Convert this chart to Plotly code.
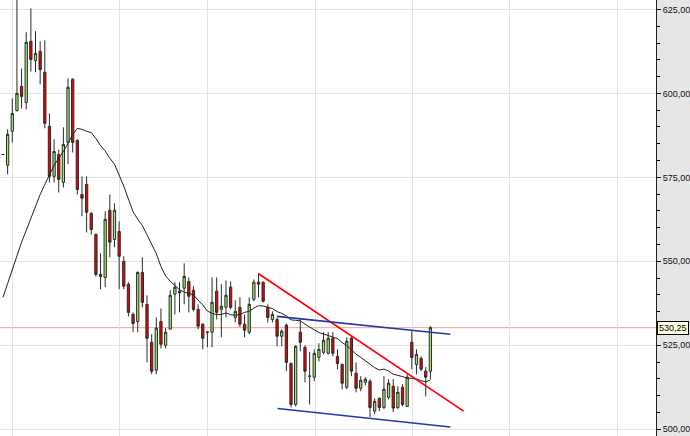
import plotly.graph_objects as go
import pandas as pd

# ---- candle data (daily) ----
opens = [581.8, 578.6, 588.7, 594.9, 602.1, 597.3, 615.5, 609.8, 612.5, 606.3,
         590.2, 575.3, 581.8, 573.5, 585.4, 604.2, 586.0, 569.9, 572.9, 564.3,
         558.0, 546.1, 545.2, 565.2, 556.5, 558.9, 550.0, 543.2, 534.2, 532.1,
         546.7, 537.2, 525.9, 517.6, 532.1, 525.0, 529.8, 540.2, 541.1, 542.0,
         544.0, 541.4, 535.7, 531.3, 528.9, 528.9, 541.1, 535.7, 536.3, 542.3,
         533.3, 536.3, 531.3, 528.9, 538.7, 543.8, 543.8, 536.3, 532.7, 532.7,
         527.7, 531.0, 519.6, 507.4, 528.9, 524.4, 515.8, 515.5, 521.4, 522.9,
         522.6, 527.1, 521.7, 519.3, 512.5, 527.1, 516.7, 512.2, 514.0, 514.3,
         505.4, 509.2, 506.5, 509.5, 512.8, 506.5, 512.5, 506.8, 525.9, 519.3,
         521.1, 517.3, 517.3]
highs = [582.0, 589.3, 598.5, 629.0, 607.4, 618.2, 625.3, 618.5, 615.5, 615.8,
         594.0, 586.3, 583.3, 589.9, 604.5, 604.5, 586.3, 575.3, 575.3, 564.6,
         558.3, 552.4, 564.9, 569.9, 567.3, 561.9, 551.5, 543.8, 534.8, 547.0,
         551.2, 539.9, 528.3, 533.3, 536.0, 530.1, 541.4, 543.8, 543.8, 549.4,
         545.2, 542.6, 537.2, 531.5, 529.2, 545.2, 545.2, 543.2, 544.3, 544.0,
         538.4, 539.3, 534.2, 539.3, 544.6, 546.4, 544.0, 537.2, 535.1, 533.3,
         529.8, 531.5, 519.9, 525.0, 533.0, 525.0, 523.0, 523.8, 525.6, 528.9,
         528.9, 528.9, 523.8, 519.6, 527.4, 527.7, 519.9, 515.8, 515.5, 514.9,
         509.2, 509.5, 515.8, 514.9, 514.9, 512.8, 513.4, 516.4, 529.2, 523.8,
         521.7, 518.5, 530.7]
lows = [581.6, 575.9, 585.4, 594.6, 595.5, 595.2, 606.5, 606.3, 602.7, 589.6,
        573.5, 573.5, 570.5, 572.0, 578.9, 582.4, 569.9, 563.4, 558.6, 558.0,
        545.5, 541.7, 542.3, 551.2, 554.2, 541.7, 541.7, 533.6, 528.9, 528.9,
        536.3, 519.9, 516.4, 516.4, 524.1, 524.1, 529.8, 534.2, 534.8, 537.2,
        534.8, 535.1, 529.8, 523.8, 524.4, 524.4, 532.7, 527.4, 533.3, 535.7,
        531.8, 530.4, 527.4, 528.3, 538.1, 539.3, 537.8, 531.8, 531.8, 524.7,
        524.7, 517.3, 506.5, 506.8, 523.2, 514.0, 507.4, 514.3, 520.2, 522.3,
        522.3, 521.7, 517.9, 511.9, 511.9, 515.8, 511.0, 511.3, 513.1, 503.6,
        504.5, 505.4, 506.0, 508.9, 505.1, 506.0, 506.8, 506.8, 517.9, 516.4,
        517.3, 509.8, 514.9]
closes = [581.8, 587.8, 594.0, 600.0, 599.1, 615.2, 610.1, 611.9, 607.1, 591.1,
          575.3, 582.7, 574.4, 584.8, 601.8, 585.4, 571.4, 568.8, 564.6, 559.5,
          546.1, 545.5, 562.5, 555.7, 565.2, 551.5, 542.6, 534.8, 531.5, 546.7,
          537.8, 527.1, 517.3, 530.1, 525.3, 528.9, 539.9, 542.3, 540.6, 545.5,
          539.6, 535.7, 530.7, 527.1, 528.9, 537.8, 534.8, 536.6, 539.9, 536.3,
          535.1, 531.3, 529.5, 537.2, 543.8, 543.2, 538.1, 533.3, 534.2, 527.7,
          529.2, 519.9, 507.4, 524.7, 525.9, 517.3, 515.8, 522.6, 523.8, 526.5,
          527.1, 522.6, 519.6, 513.7, 526.2, 517.3, 512.2, 514.6, 514.9, 506.5,
          508.3, 506.5, 511.9, 513.7, 506.3, 511.0, 507.4, 515.5, 521.4, 522.3,
          517.9, 515.5, 530.25]
idx = list(range(len(closes)))

# moving average (20): first 19 values (prior data unseen)
ma_head = [539.3, 543.5, 547.6, 551.8, 555.7, 559.2, 562.8, 566.7, 569.9, 572.9,
           575.9, 578.6, 580.7, 582.7, 585.1, 587.8, 589.6, 589.3, 588.7]
ma = pd.Series(closes).rolling(20).mean().tolist()
ma[:len(ma_head)] = ma_head

# trend lines (index, price)
red_x, red_y = [54.94, 99.14], [546.4, 505.4]
blue_up_x, blue_up_y = [58.95, 96.29], [533.6, 528.3]
blue_lo_x, blue_lo_y = [59.1, 96.29], [506.2, 500.7]

month_breaks = [2.15, 25.1, 44.0, 67.2, 88.2, 109.0, 132.2]
y_ticks = [500, 525, 550, 575, 600, 625]
last_price = 530.25

fig = go.Figure()
fig.add_trace(go.Candlestick(
    x=idx, open=opens, high=highs, low=lows, close=closes,
    increasing=dict(fillcolor="#9ded6c", line=dict(color="#2a2a2a", width=1)),
    decreasing=dict(fillcolor="#ee0000", line=dict(color="#2a2a2a", width=1)),
    whiskerwidth=0, showlegend=False, hoverinfo="skip"))
fig.add_trace(go.Scatter(x=idx, y=ma, mode="lines",
                         line=dict(color="#222222", width=1), showlegend=False))
fig.add_trace(go.Scatter(x=red_x, y=red_y, mode="lines",
                         line=dict(color="#ff0000", width=1.7), showlegend=False))
fig.add_trace(go.Scatter(x=blue_up_x, y=blue_up_y, mode="lines",
                         line=dict(color="#2238a8", width=1.6), showlegend=False))
fig.add_trace(go.Scatter(x=blue_lo_x, y=blue_lo_y, mode="lines",
                         line=dict(color="#2238a8", width=1.6), showlegend=False))

fig.add_shape(type="line", xref="paper", x0=0, x1=1, yref="y",
              y0=last_price, y1=last_price, layer="between",
              line=dict(color="#f2a0a0", width=1))

fig.add_annotation(x=1, xref="paper", y=last_price, yref="y", xanchor="left",
                   xshift=1, text=f"{last_price:.2f}".replace(".", ","),
                   showarrow=False, bgcolor="#ffffe1", bordercolor="#000000",
                   borderwidth=1, borderpad=1,
                   font=dict(family="Liberation Sans", size=9, color="#000"))

fig.update_layout(
    width=690, height=436,
    margin=dict(l=0, r=32, t=0, b=0),
    paper_bgcolor="#e6e6e6", plot_bgcolor="#ffffff",
    separators=",.",
    showlegend=False,
    xaxis=dict(range=[-0.644, 140.56], rangeslider=dict(visible=False),
               tickvals=month_breaks, showticklabels=False, ticks="",
               showgrid=True, gridcolor="#e4e4e4", gridwidth=1,
               zeroline=False, showline=False),
    yaxis=dict(side="right", range=[498.0, 627.8], tickvals=y_ticks,
               tickformat=".2f", ticks="outside", ticklen=4, tickcolor="#000",
               showline=True, linecolor="#222", linewidth=1,
               showgrid=True, gridcolor="#e4e4e4", gridwidth=1, zeroline=False,
               tickfont=dict(family="Liberation Sans", size=9, color="#111"),
               minor=dict(dtick=5, ticks="outside", ticklen=3, tickcolor="#000",
                          showgrid=False)),
)

fig.write_html("out.html")
